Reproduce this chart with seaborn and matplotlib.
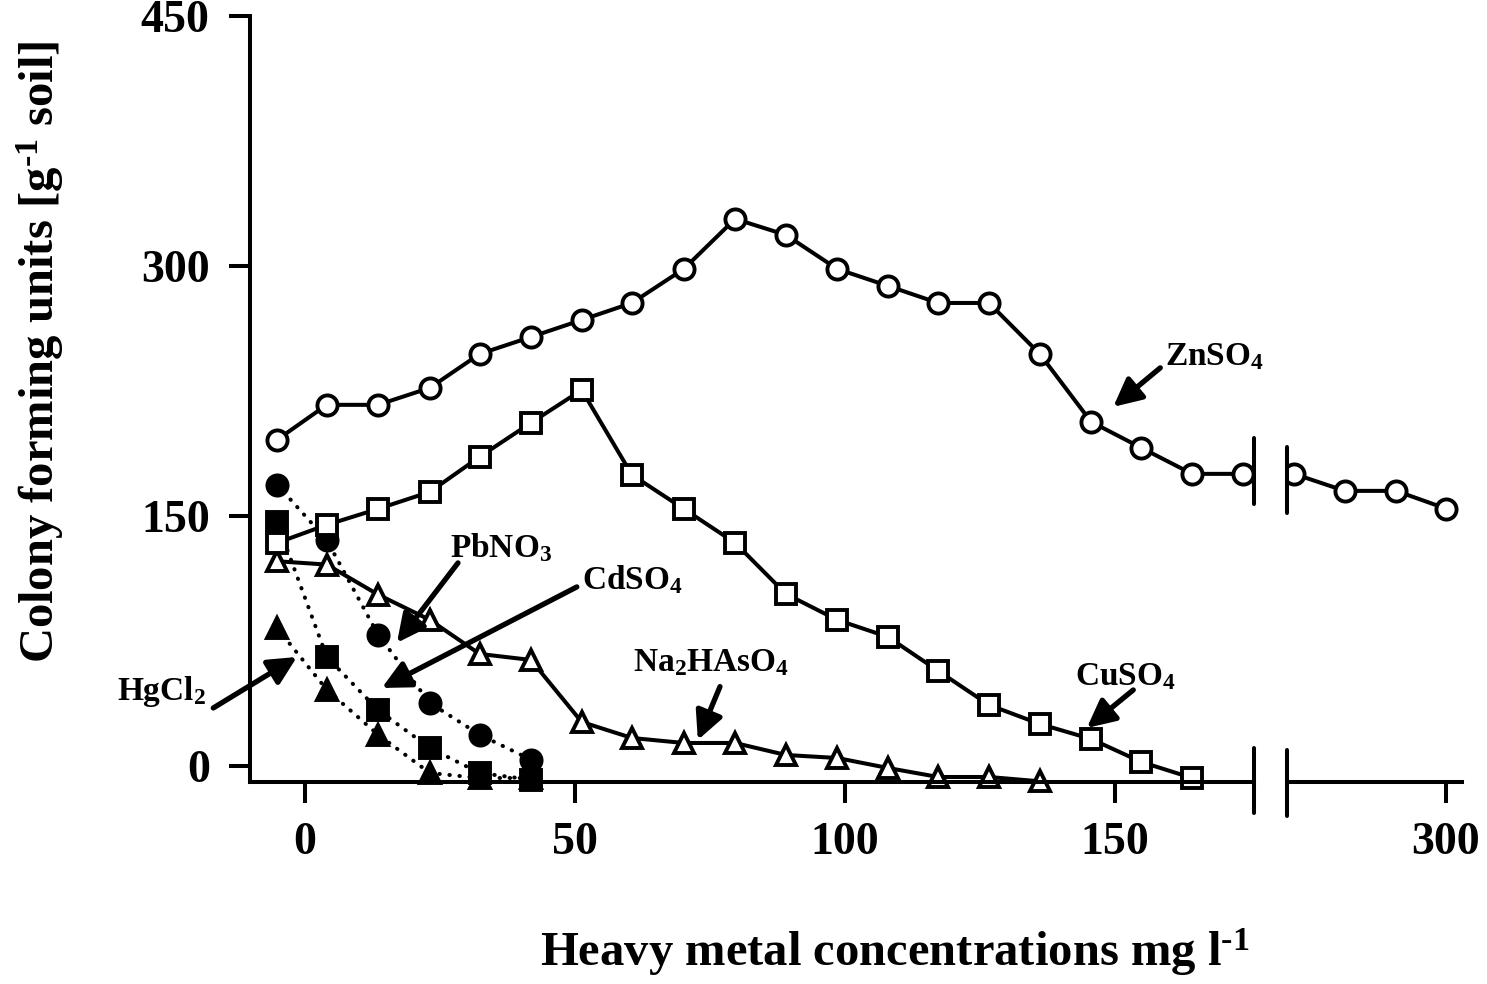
import matplotlib
matplotlib.use("Agg")
import matplotlib.pyplot as plt
import seaborn as sns

# ----------------------------
# data
# ----------------------------
# concentrations (mg l-1) of the sampled points, left of the axis break
conc = [-5.1, 4.1, 13.6, 23.2, 32.4, 41.9, 51.3, 60.6, 70.2, 79.7,
        89.1, 98.6, 108.0, 117.3, 126.7, 136.1, 145.6, 154.9, 164.3, 173.7]
# concentrations right of the axis break
conc_high = [271.9, 281.3, 290.8, 300.0]

znso4 = [195.8, 216.8, 216.8, 227.0, 247.3, 257.5, 267.7, 277.9, 298.3, 328.3,
         318.7, 298.3, 288.1, 277.9, 277.9, 247.3, 206.6, 191.0, 175.4, 175.4]
znso4_high = [175.4, 165.2, 165.2, 154.6]

cuso4 = [134.0, 144.8, 154.4, 164.6, 185.6, 206.0, 225.7, 174.8, 154.4, 134.0,
         103.4, 87.8, 77.6, 57.2, 36.8, 25.4, 16.4, 2.6, -7.0]

na2hasO4 = [123.0, 121.0, 103.0, 87.8, 67.4, 63.8, 26.6, 17.0, 14.0, 14.0,
            6.8, 5.0, -1.0, -6.4, -6.4, -9.0]

pbno3 = [169.0, 135.8, 79.0, 38.0, 19.0, 4.0]
cdso4 = [146.6, 65.7, 33.8, 11.0, -4.0, -8.0]
hgcl2 = [83.0, 46.0, 19.0, -4.0, -7.0, -7.0]

x_ticks = [0, 50, 100, 150]
x_ticks_high = [300]
y_ticks = [0, 150, 300, 450]

# ----------------------------
# style
# ----------------------------
sns.set_style("ticks")
plt.rcParams["font.family"] = ["Liberation Serif", "DejaVu Serif"]
plt.rcParams["font.weight"] = "bold"
plt.rcParams["mathtext.fontset"] = "custom"
plt.rcParams["mathtext.rm"] = "Liberation Serif:bold"
plt.rcParams["mathtext.bf"] = "Liberation Serif:bold"
plt.rcParams["mathtext.default"] = "rm"
for key in ("text.color", "axes.labelcolor", "xtick.color", "ytick.color",
            "axes.edgecolor"):
    plt.rcParams[key] = "black"

LW = 2.9
MS = 14.5

fig = plt.figure(figsize=(14.87, 9.84), dpi=100, facecolor="white")
ax = fig.add_axes([250 / 1487, 202 / 984, 1004 / 1487, 766 / 984])
ax2 = fig.add_axes([1287 / 1487, 202 / 984, 175 / 1487, 766 / 984], sharey=ax)


def draw(axis, x, y, marker, filled, dotted, clip=False):
    sns.lineplot(
        x=x, y=y, ax=axis,
        color="black",
        marker=marker,
        markersize=MS,
        markerfacecolor="black" if filled else "white",
        markeredgecolor="black",
        markeredgewidth=2.8,
        linewidth=LW,
        linestyle=(0, (0.1, 2.4)) if dotted else "-",
        dash_capstyle="round",
        clip_on=clip,
    )


# filled symbols (dotted) first, open symbols on top
n = len(pbno3)
draw(ax, conc[:n], hgcl2, "^", True, True)
draw(ax, conc[:n], cdso4, "s", True, True)
draw(ax, conc[:n], pbno3, "o", True, True)
draw(ax, conc[:len(na2hasO4)], na2hasO4, "^", False, False)
draw(ax, conc[:len(cuso4)], cuso4, "s", False, False)
draw(ax, conc, znso4, "o", False, False)
draw(ax2, conc_high, znso4_high, "o", False, False, clip=True)

# ----------------------------
# axes
# ----------------------------
ax.set_xlim(-10.1, 175.75)
ax2.set_xlim(270.6, 303.0)
ax.set_ylim(-9.4, 450)

ax.set_xticks(x_ticks)
ax.set_xticklabels([str(t) for t in x_ticks])
ax2.set_xticks(x_ticks_high)
ax2.set_xticklabels([str(t) for t in x_ticks_high])
ax.set_yticks(y_ticks)
ax.set_yticklabels([str(t) for t in y_ticks])

sns.despine(ax=ax)
sns.despine(ax=ax2, left=True)
for a in (ax, ax2):
    a.set_facecolor("none")
    for s in a.spines.values():
        s.set_linewidth(LW)
        s.set_color("black")
    a.tick_params(axis="both", direction="out", length=15, width=LW,
                  pad=14, labelsize=33, colors="black")
ax2.tick_params(axis="y", left=False, labelleft=False)

ax.set_ylabel(r"Colony forming units [g$^{\text{-1}}$ soil]", fontsize=35,
              fontweight="bold", color="black")
ax.yaxis.set_label_coords(-0.183, 0.562)
ax.set_xlabel(r"Heavy metal concentrations mg l$^{\text{-1}}$", fontsize=35,
              fontweight="bold", color="black")
ax.xaxis.set_label_coords(0.642, -0.188)

# axis break marks
for a, xa, segs in ((ax, 1.0, [(11, -28), (197, 157.4)]),
                    (ax2, 0.0, [(9.8, -29.7), (191.6, 152)])):
    for y0, y1 in segs:
        a.plot([xa, xa], [y0, y1], color="black", lw=LW,
               transform=a.get_yaxis_transform(), clip_on=False)

# ----------------------------
# labels with arrows
# ----------------------------
labels = [
    ("ZnSO$_4$", (159.3, 245.5), (158.4, 239.0), (149.7, 215.6)),
    ("CuSO$_4$", (142.6, 53.8), (153.4, 45.8), (144.8, 23.0)),
    ("Na$_2$HAsO$_4$", (60.8, 62.0), (76.9, 47.8), (72.8, 15.8)),
    ("PbNO$_3$", (26.9, 131.0), (28.4, 122.0), (17.1, 74.1)),
    ("CdSO$_4$", (51.4, 111.8), (50.4, 107.6), (14.3, 47.0)),
    ("HgCl$_2$", (-34.7, 44.6), (-16.9, 35.0), (-1.4, 65.6)),
]
for text, pos, start, tip in labels:
    ax.text(pos[0], pos[1], text, fontsize=24, fontweight="bold",
            color="black", ha="left", va="center", clip_on=False)
    ax.annotate("", xy=tip, xytext=start, xycoords="data",
                arrowprops=dict(arrowstyle="-|>,head_length=0.85,head_width=0.42",
                                mutation_scale=20, lw=3.8, color="black",
                                shrinkA=0, shrinkB=0),
                annotation_clip=False)

fig.savefig("out.png", dpi=100, facecolor="white")
plt.close(fig)
